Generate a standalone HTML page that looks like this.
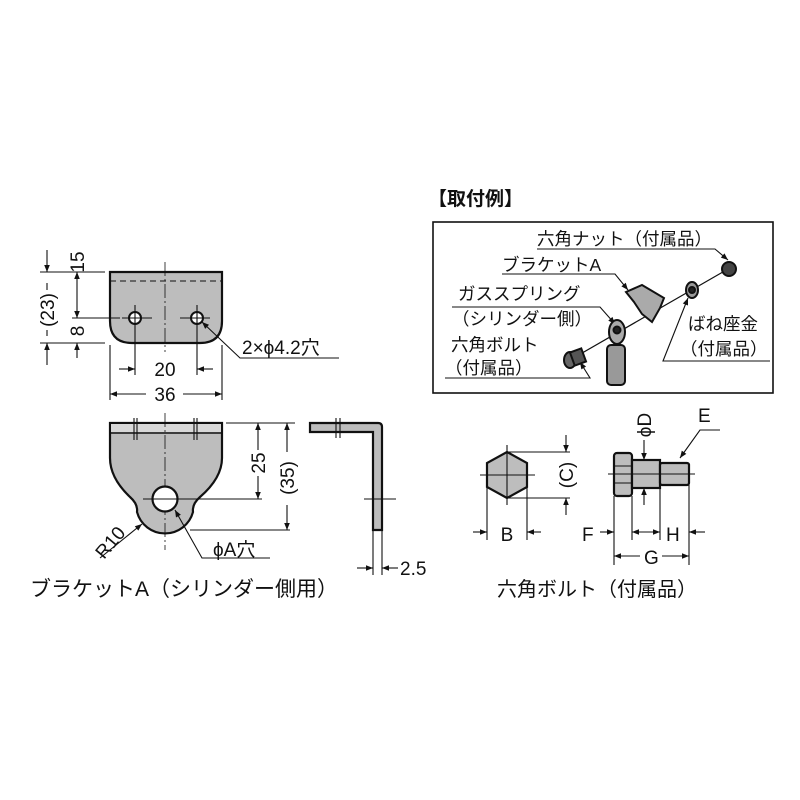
<!DOCTYPE html>
<html><head><meta charset="utf-8"><style>
html,body{margin:0;padding:0;background:#fff;width:800px;height:800px;overflow:hidden}
svg{display:block}
text{font-family:"Liberation Sans","Noto Sans CJK JP",sans-serif;fill:#111}
</style></head><body>
<svg width="800" height="800" viewBox="0 0 800 800" xmlns="http://www.w3.org/2000/svg">
<defs>
<marker id="a" viewBox="0 0 10 10" refX="10" refY="5" markerWidth="10" markerHeight="7" orient="auto-start-reverse" markerUnits="userSpaceOnUse"><path d="M0,1 L10,5 L0,9 z" fill="#111"/></marker>
</defs>
<g stroke="#111" fill="none" stroke-width="1.1">
<path d="M110,272 H222 V321 Q222,343 200,343 H132 Q110,343 110,321 Z" fill="#bdbdbd" stroke-width="2.2"/>
<line x1="110" y1="281" x2="222" y2="281" stroke-dasharray="6,4"/>
<circle cx="135" cy="318" r="6" fill="#fff" stroke-width="2"/>
<circle cx="197" cy="318" r="6" fill="#fff" stroke-width="2"/>
<line x1="165" y1="262" x2="165" y2="352" stroke-dasharray="14,3,2,3" stroke-width="0.8"/>
<line x1="135" y1="305" x2="135" y2="375"/><line x1="122" y1="318" x2="152" y2="318"/>
<line x1="197" y1="305" x2="197" y2="375"/><line x1="180" y1="318" x2="210" y2="318"/>
<line x1="40" y1="272" x2="105" y2="272"/>
<line x1="40" y1="343" x2="105" y2="343"/>
<line x1="72" y1="318" x2="120" y2="318"/>
<line x1="47" y1="250" x2="47" y2="272" marker-end="url(#a)"/>
<line x1="47" y1="343" x2="47" y2="365" marker-start="url(#a)"/>
<line x1="47" y1="283" x2="47" y2="290"/><line x1="47" y1="330" x2="47" y2="336"/>
<line x1="77" y1="272" x2="77" y2="318" marker-start="url(#a)" marker-end="url(#a)"/>
<line x1="77" y1="343" x2="77" y2="358" marker-start="url(#a)"/>
<line x1="110" y1="345" x2="110" y2="400"/><line x1="222" y1="345" x2="222" y2="400"/>
<line x1="119" y1="369" x2="135" y2="369" marker-end="url(#a)"/>
<line x1="197" y1="369" x2="213" y2="369" marker-start="url(#a)"/>
<line x1="110" y1="394" x2="146" y2="394" marker-start="url(#a)"/>
<line x1="183" y1="394" x2="222" y2="394" marker-end="url(#a)"/>
<polyline points="339,358 240,358 202,322" marker-end="url(#a)"/>
<path d="M110,423 H222 V458 Q222,478 200,497 Q192,504 193,512 A29,29 0 0 1 137,512 Q138,504 130,497 Q110,478 110,458 Z" fill="#bdbdbd" stroke-width="2.2"/>
<rect x="111" y="424" width="110" height="8" fill="#d8d8d8" stroke="none"/>
<line x1="110" y1="433" x2="222" y2="433" stroke-width="1.5"/>
<line x1="165" y1="413" x2="165" y2="550" stroke-dasharray="14,3,2,3" stroke-width="0.8"/>
<line x1="134" y1="418" x2="134" y2="440"/><line x1="137" y1="418" x2="137" y2="440"/>
<line x1="194" y1="418" x2="194" y2="440"/><line x1="197" y1="418" x2="197" y2="440"/>
<circle cx="165" cy="499" r="12.5" fill="#fff" stroke-width="2.2"/>
<line x1="143" y1="499" x2="262" y2="499"/>
<line x1="190" y1="530" x2="290" y2="530"/>
<line x1="226" y1="423" x2="295" y2="423"/>
<line x1="258" y1="423" x2="258" y2="450" marker-start="url(#a)"/>
<line x1="258" y1="476" x2="258" y2="499" marker-end="url(#a)"/>
<line x1="287" y1="423" x2="287" y2="452" marker-start="url(#a)"/>
<line x1="287" y1="505" x2="287" y2="530" marker-end="url(#a)"/>
<polyline points="100,558 142,524" marker-end="url(#a)"/>
<polyline points="270,558 202,558 175,510" marker-end="url(#a)"/>
<path d="M310,423 H378 Q382,423 382,427 V530 H373 V432 H310 Z" fill="#bdbdbd" stroke-width="2.2"/>
<line x1="336" y1="418" x2="336" y2="438"/><line x1="340" y1="418" x2="340" y2="438"/>
<line x1="364" y1="499" x2="396" y2="499"/>
<line x1="373" y1="530" x2="373" y2="575"/><line x1="382" y1="530" x2="382" y2="575"/>
<line x1="357" y1="568" x2="373" y2="568" marker-end="url(#a)"/>
<line x1="398" y1="568" x2="382" y2="568" marker-end="url(#a)"/>
<rect x="433" y="222" width="340" height="171" stroke-width="1.6"/>
<polygon points="507,452 527,463 527,487 507,498 487,487 487,463" fill="#bdbdbd" stroke-width="2.2"/>
<line x1="480" y1="475" x2="535" y2="475"/><line x1="507" y1="445" x2="507" y2="505"/>
<line x1="507" y1="452" x2="570" y2="452"/><line x1="507" y1="498" x2="570" y2="498"/>
<line x1="566" y1="435" x2="566" y2="452" marker-end="url(#a)"/>
<line x1="566" y1="515" x2="566" y2="498" marker-end="url(#a)"/>
<line x1="487" y1="487" x2="487" y2="540"/><line x1="527" y1="487" x2="527" y2="540"/>
<line x1="473" y1="532" x2="487" y2="532" marker-end="url(#a)"/>
<line x1="541" y1="532" x2="527" y2="532" marker-end="url(#a)"/>
<rect x="614" y="453" width="18" height="43" rx="3" fill="#bdbdbd" stroke-width="2.2"/>
<line x1="614" y1="466" x2="632" y2="466"/><line x1="614" y1="483" x2="632" y2="483"/>
<rect x="632" y="460" width="28" height="28" fill="#bdbdbd" stroke-width="2.2"/>
<rect x="660" y="463" width="29" height="22" rx="2" fill="#bdbdbd" stroke-width="2.2"/>
<line x1="608" y1="474" x2="695" y2="474"/>
<line x1="644" y1="440" x2="644" y2="460" marker-end="url(#a)"/>
<line x1="644" y1="505" x2="644" y2="488" marker-end="url(#a)"/>
<polyline points="720,430 700,430 680,458" marker-end="url(#a)"/>
<line x1="614" y1="496" x2="614" y2="565"/><line x1="632" y1="496" x2="632" y2="540"/>
<line x1="660" y1="488" x2="660" y2="540"/><line x1="689" y1="485" x2="689" y2="565"/>
<line x1="600" y1="532" x2="614" y2="532" marker-end="url(#a)"/>
<line x1="632" y1="532" x2="660" y2="532" marker-start="url(#a)" marker-end="url(#a)"/>
<line x1="705" y1="532" x2="689" y2="532" marker-end="url(#a)"/>
<line x1="614" y1="556" x2="640" y2="556" marker-start="url(#a)"/>
<line x1="662" y1="556" x2="689" y2="556" marker-end="url(#a)"/>
<line x1="570" y1="360" x2="735" y2="265" stroke-width="1.2"/>
<polyline points="537,249 715,249 728,260" marker-end="url(#a)"/>
<polyline points="502,274 615,274 628,290" marker-end="url(#a)"/>
<polyline points="452,307 600,307 615,324" marker-end="url(#a)"/>
<polyline points="445,378 590,378 580,362" marker-end="url(#a)"/>
<polyline points="770,361 663,361 688,298" marker-end="url(#a)"/>
</g>
<g stroke="#111" stroke-width="2">
<circle cx="729" cy="269" r="7" fill="#444"/>
<ellipse cx="692" cy="290" rx="6" ry="8" fill="#999"/>
<circle cx="692" cy="290" r="3" fill="#222"/>
<path d="M626,292 L642,285 L664,298 L660,308 L652,322 L642,314 L634,302 Z" fill="#aaa"/>
<rect x="607" y="345" width="18" height="40" rx="4" fill="#999"/>
<ellipse cx="617" cy="332" rx="8" ry="12" fill="#aaa"/>
<circle cx="617" cy="330" r="3.5" fill="#222"/>
<ellipse cx="570" cy="360" rx="6" ry="8" fill="#666"/>
<rect x="572" y="350" width="12" height="14" fill="#555" transform="rotate(-20 578 357)"/>
</g>
<g font-size="19">
<text x="0" y="0" transform="translate(84,262) rotate(-90)" text-anchor="middle">15</text>
<text x="0" y="0" transform="translate(54,310) rotate(-90)" text-anchor="middle">(23)</text>
<text x="0" y="0" transform="translate(84,331) rotate(-90)" text-anchor="middle">8</text>
<text x="165" y="376" text-anchor="middle">20</text>
<text x="165" y="401" text-anchor="middle">36</text>
<text x="242" y="354">2×ϕ4.2穴</text>
<text x="0" y="0" transform="translate(265,463) rotate(-90)" text-anchor="middle">25</text>
<text x="0" y="0" transform="translate(294,478) rotate(-90)" text-anchor="middle">(35)</text>
<text x="0" y="0" transform="translate(104,560) rotate(-50)">R10</text>
<text x="213" y="556">ϕA穴</text>
<text x="400" y="575">2.5</text>
<text x="30" y="596" font-size="21">ブラケットA（シリンダー側用）</text>
<text x="428" y="205" font-size="19" font-weight="bold">【取付例】</text>
<text x="507" y="541" text-anchor="middle">B</text>
<text x="0" y="0" transform="translate(573,475) rotate(-90)" text-anchor="middle">(C)</text>
<text x="0" y="0" transform="translate(651,425) rotate(-90)" text-anchor="middle">ϕD</text>
<text x="698" y="422">E</text>
<text x="582" y="541">F</text>
<text x="666" y="541">H</text>
<text x="644" y="564">G</text>
<text x="497" y="596" font-size="20">六角ボルト（付属品）</text>
</g>
<g font-size="17.5">
<text x="537" y="245">六角ナット（付属品）</text>
<text x="502" y="271">ブラケットA</text>
<text x="458" y="300">ガススプリング</text>
<text x="452" y="325">（シリンダー側）</text>
<text x="451" y="351">六角ボルト</text>
<text x="445" y="374">（付属品）</text>
<text x="688" y="330">ばね座金</text>
<text x="680" y="355">（付属品）</text>
</g>
</svg>
</body></html>
